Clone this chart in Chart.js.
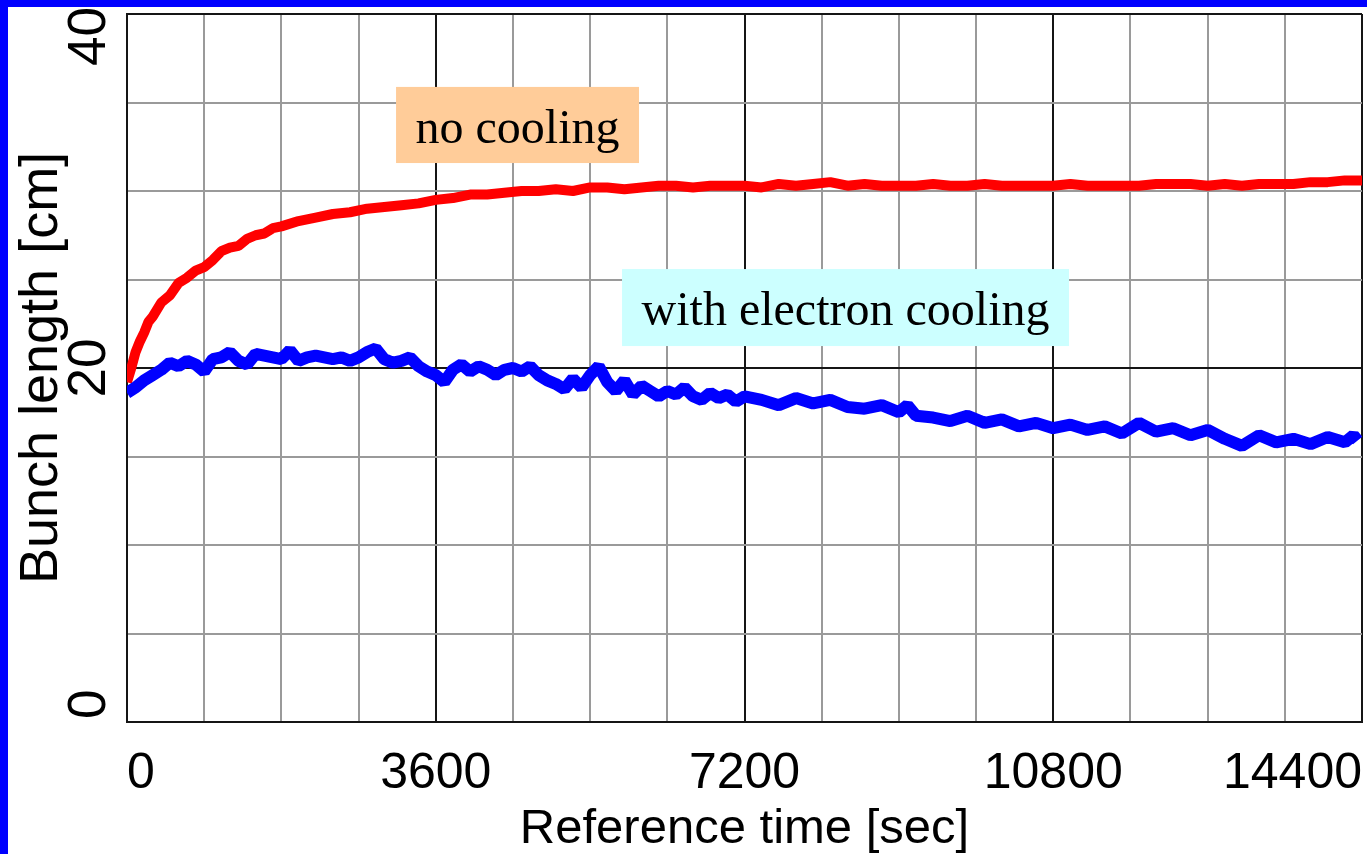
<!DOCTYPE html>
<html>
<head>
<meta charset="utf-8">
<title>Bunch length</title>
<script src="https://cdn.jsdelivr.net/npm/chart.js@4.4.1/dist/chart.umd.min.js"></script>
<style>
	html, body { margin: 0; padding: 0; background: #fff; overflow: hidden; }
	#frame { width: 1359px; height: 847px; border-left: 8px solid #0000ff; border-top: 7px solid #0000ff; background: #fff; }
	canvas { display: block; }
</style>
</head>
<body>
<div id="frame"><canvas id="chartline" width="1359" height="847"></canvas></div>
<script>
// values (time in sec, bunch length in cm)
var RED_T = [0, 50, 100, 150, 200, 250, 300,
	400, 500, 600, 700, 800, 900, 1000, 1100, 1200, 1300, 1400, 1500, 1600, 1700, 1800,
	2000, 2200, 2400, 2600, 2800, 3000, 3200, 3400, 3600, 3800, 4000, 4200, 4400, 4600, 4800,
	5000, 5200, 5400, 5600, 5800, 6000, 6200, 6400, 6600, 6800, 7000, 7200, 7400, 7600, 7800,
	8000, 8200, 8400, 8600, 8800, 9000, 9200, 9400, 9600, 9800, 10000, 10200, 10400, 10600, 10800,
	11000, 11200, 11400, 11600, 11800, 12000, 12200, 12400, 12600, 12800, 13000, 13200, 13400, 13600, 13800,
	14000, 14200, 14400];
var RED_V = [19.2, 20.0, 20.9, 21.5, 22.0, 22.6, 22.9,
	23.7, 24.1, 24.8, 25.1, 25.5, 25.7, 26.1, 26.6, 26.8, 26.9, 27.3, 27.5, 27.6, 27.9, 28.0,
	28.3, 28.5, 28.7, 28.8, 29.0, 29.1, 29.2, 29.3, 29.5, 29.6, 29.8, 29.8, 29.9, 30.0, 30.0,
	30.1, 30.0, 30.2, 30.2, 30.1, 30.2, 30.3, 30.3, 30.2, 30.3, 30.3, 30.3, 30.2, 30.4, 30.3,
	30.4, 30.5, 30.3, 30.4, 30.3, 30.3, 30.3, 30.4, 30.3, 30.3, 30.4, 30.3, 30.3, 30.3, 30.3,
	30.4, 30.3, 30.3, 30.3, 30.3, 30.4, 30.4, 30.4, 30.3, 30.4, 30.3, 30.4, 30.4, 30.4, 30.5,
	30.5, 30.6, 30.6];

var BLUE_T = [0, 100, 200, 300, 400, 500, 600, 700, 800, 900,
	1000, 1100, 1200, 1300, 1400, 1500, 1600, 1700, 1800, 1900,
	2000, 2100, 2200, 2300, 2400, 2500, 2600, 2700, 2800, 2900,
	3000, 3100, 3200, 3300, 3400, 3500, 3600, 3700, 3800, 3900,
	4000, 4100, 4200, 4300, 4400, 4500, 4600, 4700, 4800, 4900,
	5000, 5100, 5200, 5300, 5400, 5500, 5600, 5700, 5800, 5900,
	6000, 6100, 6200, 6300, 6400, 6500, 6600, 6700, 6800, 6900,
	7000, 7100, 7200,
	7400, 7600, 7800, 8000, 8200, 8400, 8600, 8800, 9000, 9100,
	9200, 9400, 9600, 9800, 10000, 10200, 10400, 10600, 10800, 11000,
	11200, 11400, 11600, 11800, 12000, 12200, 12400, 12600, 12800, 13000,
	13200, 13400, 13600, 13800, 14000, 14200, 14300, 14350];
var BLUE_V = [18.6, 18.9, 19.3, 19.6, 19.9, 20.3, 20.1, 20.4, 20.2, 19.8,
	20.5, 20.6, 20.9, 20.4, 20.2, 20.8, 20.7, 20.6, 20.5, 21.0,
	20.4, 20.6, 20.7, 20.6, 20.5, 20.6, 20.4, 20.6, 20.9, 21.1,
	20.5, 20.3, 20.4, 20.6, 20.1, 19.8, 19.6, 19.2, 19.9, 20.2,
	19.8, 20.1, 19.9, 19.6, 19.9, 20.0, 19.8, 20.1, 19.6, 19.3,
	19.1, 18.8, 19.4, 18.9, 19.6, 20.1, 19.2, 18.7, 19.3, 18.5,
	19.0, 18.7, 18.4, 18.7, 18.5, 18.9, 18.4, 18.2, 18.6, 18.3,
	18.5, 18.1, 18.4,
	18.2, 17.9, 18.3, 18.0, 18.2, 17.8, 17.7, 17.9, 17.5, 17.9,
	17.3, 17.2, 17.0, 17.3, 16.9, 17.1, 16.7, 16.9, 16.6, 16.8,
	16.5, 16.7, 16.3, 16.9, 16.4, 16.6, 16.2, 16.5, 16.0, 15.6,
	16.2, 15.8, 16.0, 15.7, 16.1, 15.8, 16.2, 15.9];

var X_TICK_LABELS = [0, 3600, 7200, 10800, 14400];
var Y_TICK_LABELS = [0, 20, 40];

var X_MAJOR = 3600;
var Y_MAJOR = 20;

// text boxes, placed in data units
var NOTES = [
	{ text: "no cooling", x0: 3137, x1: 5970, y0: 35.88, y1: 31.58, fill: "#ffcc99" },
	{ text: "with electron cooling", x0: 5772, x1: 10984, y0: 25.59, y1: 21.24, fill: "#ccffff" }
];

function toPoints(xs, ys) {
	var pts = [];
	var n = Math.min(xs.length, ys.length);
	for (var i = 0; i < n; i++) {
		pts.push({ x: xs[i], y: ys[i] });
	}
	return pts;
}

function gridColor(major) {
	return function (c) {
		if (c.tick && c.tick.value % major === 0) {
			return "#151515";
		}
		return "#9a9a9a";
	};
}

var notesPlugin = {
	id: "notes",
	afterDraw: function (chart) {
		var ctx = chart.ctx;
		var xs = chart.scales.x;
		var ys = chart.scales.y;
		ctx.save();
		for (var i = 0; i < NOTES.length; i++) {
			var n = NOTES[i];
			var l = xs.getPixelForValue(n.x0);
			var r = xs.getPixelForValue(n.x1);
			var t = ys.getPixelForValue(n.y0);
			var b = ys.getPixelForValue(n.y1);
			ctx.fillStyle = n.fill;
			ctx.fillRect(l, t, r - l, b - t);
			ctx.fillStyle = "#000";
			ctx.font = '48px "Liberation Serif", "Times New Roman", serif';
			ctx.textAlign = "center";
			ctx.textBaseline = "alphabetic";
			ctx.fillText(n.text, (l + r) / 2, t + 56);
		}
		ctx.restore();
	}
};

// y tick labels are turned on their side and kept inside the axis ends
var yLabelPlugin = {
	id: "yLabels",
	afterDraw: function (chart) {
		var ctx = chart.ctx;
		var ys = chart.scales.y;
		var last = Y_TICK_LABELS.length - 1;
		ctx.save();
		ctx.fillStyle = "#000";
		ctx.font = '53px "Liberation Sans", Arial, sans-serif';
		ctx.textBaseline = "alphabetic";
		for (var i = 0; i <= last; i++) {
			var py = ys.getPixelForValue(Y_TICK_LABELS[i]);
			ctx.save();
			if (i === 0) {
				ctx.textAlign = "left";
				py -= 3;
			} else if (i === last) {
				ctx.textAlign = "right";
				py -= 7;
			} else {
				ctx.textAlign = "center";
			}
			ctx.translate(ys.right - 22, py);
			ctx.rotate(-Math.PI / 2);
			ctx.fillText(String(Y_TICK_LABELS[i]), 0, 0);
			ctx.restore();
		}
		ctx.restore();
	}
};

function CreateChart() {
	var config = {
		type: "line",
		data: {
			datasets: [{
				label: "with electron cooling",
				data: toPoints(BLUE_T, BLUE_V),
				borderColor: "#0000ff",
				borderWidth: 12,
				borderJoinStyle: "bevel",
				pointRadius: 0,
				tension: 0,
				fill: false
			}, {
				label: "no cooling",
				data: toPoints(RED_T, RED_V),
				borderColor: "#ff0000",
				borderWidth: 10,
				borderJoinStyle: "bevel",
				pointRadius: 0,
				tension: 0,
				fill: false
			}]
		},
		options: {
			responsive: false,
			animation: false,
			devicePixelRatio: 1,
			layout: { padding: { left: 0, right: 5, top: 7, bottom: 0 } },
			plugins: {
				legend: { display: false },
				tooltip: { enabled: false }
			},
			scales: {
				x: {
					type: "linear",
					min: 0,
					max: 14400,
					ticks: {
						stepSize: 900,
						autoSkip: false,
						minRotation: 0,
						maxRotation: 0,
						align: "inner",
						padding: 27,
						color: "#000",
						font: { family: '"Liberation Sans", Arial, sans-serif', size: 50, lineHeight: 1 },
						callback: function (v) {
							return X_TICK_LABELS.indexOf(v) >= 0 ? String(v) : "";
						}
					},
					grid: { drawTicks: false, lineWidth: 2, color: gridColor(X_MAJOR) },
					border: { color: "#151515", width: 2 },
					title: {
						display: true,
						text: "Reference time [sec]",
						color: "#000",
						font: { family: '"Liberation Sans", Arial, sans-serif', size: 49, lineHeight: 1 },
						padding: { top: 0, bottom: 0 }
					},
					afterFit: function (s) {
						s.height = 132;
						// the tick padding should not eat into the plot width
						s.paddingLeft = 0;
						s.paddingRight = 0;
					}
				},
				y: {
					type: "linear",
					min: 0,
					max: 40,
					ticks: { stepSize: 5, display: false },
					grid: { drawTicks: false, lineWidth: 2, color: gridColor(Y_MAJOR) },
					border: { color: "#151515", width: 2 },
					title: {
						display: true,
						text: "Bunch length [cm]",
						color: "#000",
						font: { family: '"Liberation Sans", Arial, sans-serif', size: 54, lineHeight: 1 },
						padding: { top: 7, bottom: 0 }
					},
					afterFit: function (s) { s.width = 119; }
				}
			}
		},
		plugins: [notesPlugin, yLabelPlugin]
	};
	var chartctx = document.getElementById("chartline").getContext("2d");
	window.chartline = new Chart(chartctx, config);
}

CreateChart();
</script>
</body>
</html>
